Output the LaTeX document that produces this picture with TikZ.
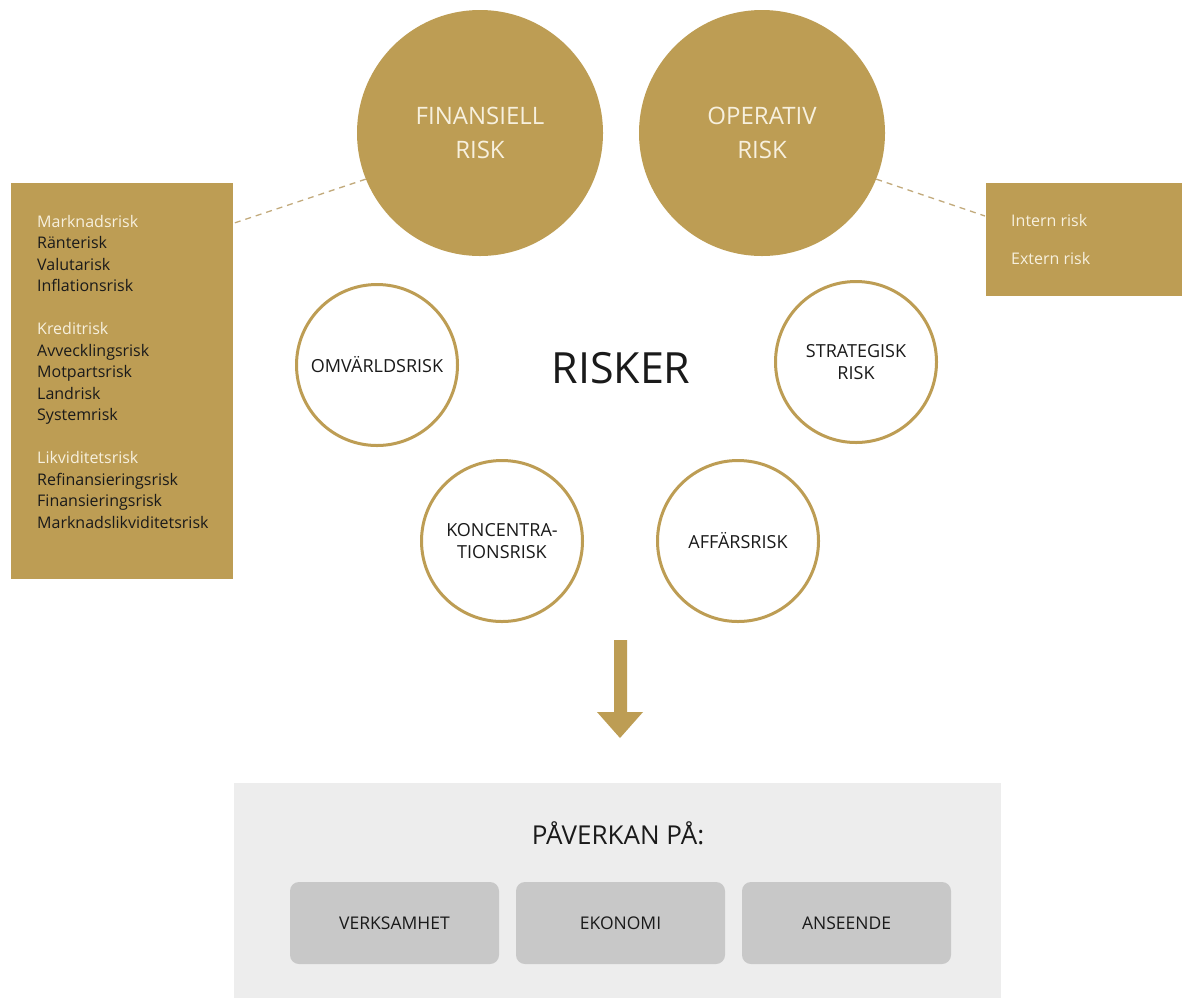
\documentclass[tikz,border=0pt]{standalone}
\usepackage{fontspec}
\setmainfont{Open Sans}
\usetikzlibrary{calc}
\definecolor{gold}{HTML}{BD9D54}
\definecolor{cream}{HTML}{F7F0DE}
\definecolor{dashc}{HTML}{C2AA7C}
\definecolor{panelgrey}{HTML}{EDEDED}
\definecolor{boxgrey}{HTML}{C8C8C8}
\definecolor{ink}{HTML}{1A1A1A}
\tikzset{
  bigcircle/.style={circle, fill=gold, minimum size=246pt, inner sep=0pt, align=center,
    text=cream, font=\fontsize{24}{34}\selectfont},
  smallcircle/.style={circle, draw=gold, line width=3pt, fill=white, minimum size=161pt, inner sep=0pt,
    align=center, text=ink, font=\fontsize{18}{22.5}\selectfont},
  goldbox/.style={fill=gold, inner sep=0pt, anchor=north west},
  listtext/.style={anchor=north west, inner sep=0pt, align=left, text=ink, font=\fontsize{16}{21.5}\selectfont},
  connector/.style={draw=dashc, line width=1.3pt, dash pattern=on 6pt off 5pt},
  impactbox/.style={fill=boxgrey, rounded corners=9pt, minimum width=209pt, minimum height=82pt,
    inner sep=0pt, text=ink, font=\fontsize{17.5}{20}\selectfont},
}
\begin{document}
\begin{tikzpicture}[x=1pt,y=-1pt]
\useasboundingbox (0,0) rectangle (1182,997);
\fill[white] (0,0) rectangle (1182,997);

% big circles
\node[bigcircle] (fin) at (480,133) {FINANSIELL\\RISK};
\node[bigcircle] (op) at (762,133) {OPERATIV\\RISK};

% side boxes
\node[goldbox, minimum width=222pt, minimum height=396pt] (lbox) at (11,183) {};
\node[goldbox, minimum width=196pt, minimum height=113pt] (rbox) at (986,183) {};

\node[listtext] (ltext) at (37,215) {%
\textcolor{cream}{Marknadsrisk}\\
Ränterisk\\
Valutarisk\\
Inflationsrisk\\[21.5pt]
\textcolor{cream}{Kreditrisk}\\
Avvecklingsrisk\\
Motpartsrisk\\
Landrisk\\
Systemrisk\\[21.5pt]
\textcolor{cream}{Likviditetsrisk}\\
Refinansieringsrisk\\
Finansieringsrisk\\
Marknadslikviditetsrisk};

\node[listtext, text=cream, font=\fontsize{16}{38}\selectfont] (rtext) at (1011,214) {Intern risk\\Extern risk};

% dashed connectors
\coordinate (lend) at ($(lbox.north east)+(1,40)$);
\coordinate (rend) at ($(rbox.north west)+(-1,33)$);
\draw[connector] (fin.202) -- (lend);
\draw[connector] (op.-22) -- (rend);

% small circles
\node[smallcircle] (omv) at (377,365) {OMVÄRLDSRISK};
\node[smallcircle] (strat) at (856,362) {STRATEGISK\\RISK};
\node[smallcircle] (konc) at (502,541) {KONCENTRA-\\TIONSRISK};
\node[smallcircle] (aff) at (738,541) {AFFÄRSRISK};

\node[text=ink, font=\fontsize{43}{50}\selectfont] (risker) at (621,368) {RISKER};

% arrow
\fill[gold] (614,640) -- (627,640) -- (627,712) -- (643,712) -- (620,738) -- (597,712) -- (614,712) -- cycle;

% bottom panel
\node[fill=panelgrey, anchor=north west, minimum width=767pt, minimum height=215pt, inner sep=0pt] (panel) at (234,783) {};
\node[text=ink, font=\fontsize{26}{30}\selectfont] (paverkan) at (618,833) {PÅVERKAN PÅ:};
\node[impactbox] (verk) at (394.5,923) {VERKSAMHET};
\node[impactbox] (ekon) at (620.5,923) {EKONOMI};
\node[impactbox] (ans) at (846.5,923) {ANSEENDE};
\end{tikzpicture}
\end{document}
